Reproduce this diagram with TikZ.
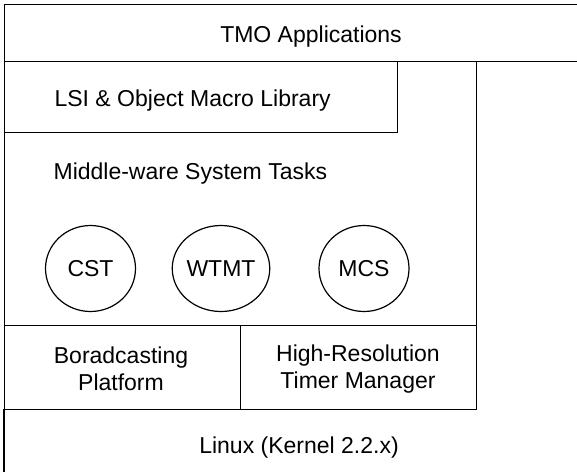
\documentclass[tikz,border=0pt]{standalone}
\usepackage{fontspec}
\setmainfont{Liberation Sans}
\usetikzlibrary{shapes.geometric}
\begin{document}
\begin{tikzpicture}[x=1pt,y=-1pt,line width=1.2pt,
  lbl/.style={font=\fontsize{23}{27}\selectfont,inner sep=0pt,anchor=base},
  lblw/.style={lbl,anchor=base west},
  two/.style={lbl,align=center,anchor=center},
  task/.style={draw,ellipse,minimum width=90pt,minimum height=86pt,inner sep=0pt,
    font=\fontsize{23}{27}\selectfont},
  box/.style={draw,rectangle,inner sep=0pt,anchor=north west}]
\useasboundingbox (0,0) rectangle (577,471);
\clip (0,0) rectangle (577,471);
% boxes
\node[box,minimum width=640pt,minimum height=57pt] (tmobox) at (4,4) {};
\node[box,minimum width=472pt,minimum height=264pt] (mwbox) at (4,61) {};
\node[box,minimum width=393pt,minimum height=71pt] (lsibox) at (4,61) {};
\node[box,minimum width=236pt,minimum height=84pt] (bpbox) at (4,325) {};
\node[box,minimum width=236pt,minimum height=84pt] (hrbox) at (240,325) {};
\coordinate (lxtop) at (4,409);
\coordinate (lxbot) at (4,480);
\draw (lxtop) -- (lxbot);
% texts
\node[lbl] (tmo) at (311,42) {TMO Applications};
\node[lblw] (lsi) at (54,106) {LSI \& Object Macro Library};
\node[lblw] (mw) at (53,179) {Middle-ware System Tasks};
\node[task] (cst) at (90.5,268.5) {CST};
\node[task] (wtmt) at (221,268.5) {WTMT};
\node[task] (mcs) at (364,268.5) {MCS};
\node[two] (bp) at (121,369) {Boradcasting\\Platform};
\node[two] (hr) at (358,369) {High-Resolution\\Timer Manager};
\node[lbl] (linux) at (299,453) {Linux (Kernel 2.2.x)};
\end{tikzpicture}
\end{document}
